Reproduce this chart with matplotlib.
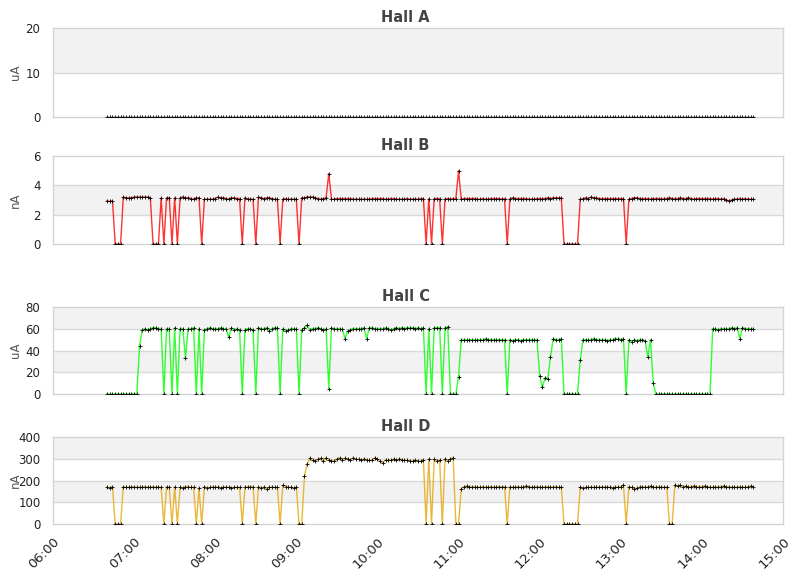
import datetime as dt
import matplotlib
matplotlib.use('Agg')
import matplotlib.pyplot as plt
import matplotlib.dates as mdates

# samples every 2 minutes from 06:40
start_time = dt.datetime(2024, 1, 1, 6, 40)
step_minutes = 2

hall_b = [
    2.95, 2.9, 2.95, 0, 0, 0, 3.2, 3.15, 3.15, 3.15,
    3.2, 3.2, 3.2, 3.2, 3.2, 3.2, 3.15, 0, 0, 0,
    3.15, 0, 3.15, 3.15, 0, 3.15, 0, 3.15, 3.2, 3.15,
    3.15, 3.1, 3.05, 3.15, 3.15, 0, 3.05, 3.05, 3.05, 3.05,
    3.1, 3.2, 3.15, 3.15, 3.1, 3.05, 3.15, 3.15, 3.1, 3.1,
    0, 3.15, 3.05, 3.05, 3.05, 0, 3.2, 3.15, 3.1, 3.15,
    3.15, 3.1, 3.05, 3.05, 0, 3.05, 3.1, 3.05, 3.05, 3.05,
    3.05, 0, 3.15, 3.15, 3.2, 3.2, 3.2, 3.15, 3.1, 3.05,
    3.1, 3.15, 4.8, 3.05, 3.05, 3.1, 3.1, 3.1, 3.1, 3.1,
    3.1, 3.05, 3.05, 3.05, 3.05, 3.05, 3.05, 3.05, 3.1, 3.1,
    3.1, 3.1, 3.1, 3.05, 3.05, 3.1, 3.1, 3.05, 3.05, 3.05,
    3.05, 3.1, 3.05, 3.05, 3.05, 3.05, 3.1, 3.1, 0, 3.1,
    0, 3.1, 3.1, 3.1, 0, 3.05, 3.1, 3.05, 3.1, 3.1,
    5.0, 3.05, 3.1, 3.1, 3.1, 3.1, 3.1, 3.05, 3.05, 3.1,
    3.05, 3.05, 3.1, 3.1, 3.1, 3.1, 3.05, 3.1, 0, 3.1,
    3.15, 3.1, 3.1, 3.1, 3.1, 3.1, 3.05, 3.05, 3.05, 3.1,
    3.1, 3.1, 3.1, 3.15, 3.1, 3.15, 3.15, 3.15, 3.15, 0,
    0, 0, 0, 0, 0, 3.05, 3.1, 3.15, 3.1, 3.2,
    3.15, 3.15, 3.1, 3.1, 3.1, 3.1, 3.1, 3.1, 3.1, 3.1,
    3.1, 3.1, 0, 3.05, 3.1, 3.15, 3.15, 3.1, 3.1, 3.1,
    3.1, 3.05, 3.1, 3.1, 3.1, 3.05, 3.1, 3.1, 3.15, 3.1,
    3.1, 3.1, 3.15, 3.1, 3.1, 3.15, 3.1, 3.05, 3.1, 3.1,
    3.1, 3.1, 3.1, 3.1, 3.05, 3.1, 3.1, 3.05, 3.1, 3.0,
    2.95, 3.0, 3.05, 3.05, 3.1, 3.05, 3.1, 3.05, 3.05, 3.05,
]

hall_c = [
    0, 0, 0, 0, 0, 0, 0, 0, 0, 0,
    0, 0, 44, 59, 60, 59, 60, 61, 61, 60,
    60, 0, 60, 60, 0, 61, 0, 60, 60, 33,
    60, 60, 61, 0, 60, 0, 59, 60, 61, 60,
    60, 60, 61, 60, 60, 52, 61, 59, 60, 59,
    0, 59, 60, 60, 59, 0, 61, 60, 60, 61,
    58, 60, 61, 61, 0, 60, 58, 59, 60, 60,
    60, 0, 59, 61, 63, 59, 60, 60, 61, 60,
    59, 60, 5, 61, 60, 60, 60, 60, 51, 58,
    59, 60, 60, 60, 60, 61, 51, 61, 61, 60,
    60, 60, 60, 61, 60, 59, 60, 61, 60, 61,
    60, 61, 61, 61, 60, 61, 60, 61, 0, 60,
    0, 61, 61, 61, 0, 61, 62, 0, 0, 0,
    16, 50, 50, 50, 50, 50, 50, 50, 50, 50,
    51, 50, 50, 50, 50, 50, 50, 50, 0, 50,
    49, 50, 50, 49, 50, 50, 50, 50, 50, 50,
    17, 6, 15, 14, 34, 51, 50, 50, 51, 0,
    0, 0, 0, 0, 0, 31, 50, 50, 50, 50,
    51, 50, 50, 50, 50, 49, 50, 50, 51, 51,
    50, 51, 0, 50, 48, 50, 49, 50, 50, 49,
    34, 50, 10, 0, 0, 0, 0, 0, 0, 0,
    0, 0, 0, 0, 0, 0, 0, 0, 0, 0,
    0, 0, 0, 0, 60, 60, 59, 60, 60, 60,
    60, 61, 60, 61, 51, 61, 60, 60, 60, 60,
]

hall_d = [
    168, 166, 172, 0, 0, 0, 172, 168, 168, 172,
    170, 168, 168, 170, 172, 168, 170, 172, 168, 170,
    168, 0, 172, 168, 0, 172, 0, 168, 165, 172,
    172, 168, 170, 0, 165, 0, 172, 165, 168, 170,
    168, 172, 165, 168, 170, 168, 165, 168, 168, 168,
    0, 168, 172, 172, 172, 0, 172, 165, 170, 162,
    168, 170, 168, 168, 0, 178, 172, 170, 168, 165,
    170, 0, 0, 220, 275, 302, 292, 290, 298, 302,
    288, 305, 295, 290, 290, 298, 305, 295, 302, 298,
    295, 305, 298, 298, 295, 300, 295, 292, 295, 305,
    298, 290, 280, 295, 292, 295, 298, 292, 300, 296,
    295, 292, 290, 290, 292, 288, 290, 295, 0, 300,
    0, 298, 290, 295, 0, 300, 290, 300, 305, 0,
    0, 160, 172, 175, 172, 170, 172, 168, 170, 172,
    168, 170, 172, 168, 170, 172, 170, 172, 0, 172,
    168, 170, 172, 168, 170, 175, 172, 168, 170, 172,
    170, 168, 170, 172, 168, 170, 172, 168, 170, 0,
    0, 0, 0, 0, 0, 168, 165, 168, 168, 170,
    168, 170, 168, 172, 170, 168, 170, 165, 168, 170,
    172, 178, 0, 172, 168, 162, 165, 170, 172, 168,
    172, 175, 170, 168, 172, 170, 168, 172, 0, 0,
    178, 175, 178, 172, 175, 170, 172, 175, 172, 170,
    172, 175, 172, 170, 168, 172, 170, 172, 175, 170,
    172, 168, 170, 168, 172, 170, 168, 172, 175, 172,
]

hall_a = [0.0] * len(hall_b)

titles = ['Hall A', 'Hall B', 'Hall C', 'Hall D']
units = ['uA', 'nA', 'uA', 'nA']
series = [hall_a, hall_b, hall_c, hall_d]
line_colors = ['#000000', '#ff0000', '#00ff00', '#e5a50a']
y_max = [20, 6, 80, 400]
y_step = [10, 2, 20, 100]
x_labels = ['06:00', '07:00', '08:00', '09:00', '10:00', '11:00',
            '12:00', '13:00', '14:00', '15:00']

times = [start_time + dt.timedelta(minutes=step_minutes * i) for i in range(len(hall_b))]

W, H = 811, 578
fig = plt.figure(figsize=(W / 100, H / 100), dpi=100)

# axes boxes in pixels: (top, bottom)
boxes = [(28, 117), (156, 244), (307, 394), (437, 524)]
left_px, right_px = 53, 783

x0 = dt.datetime(2024, 1, 1, 6, 0)
x1 = dt.datetime(2024, 1, 1, 15, 0)

for k in range(4):
    top, bot = boxes[k]
    ax = fig.add_axes([left_px / W, 1 - bot / H, (right_px - left_px) / W, (bot - top) / H])
    ax.set_xlim(x0, x1)
    ax.set_ylim(0, y_max[k])

    # alternating bands and grid
    ticks = list(range(0, y_max[k] + 1, y_step[k]))
    for j in range(len(ticks) - 1):
        if j % 2 == 1:
            ax.axhspan(ticks[j], ticks[j + 1], color='#f2f2f2', zorder=0, lw=0)
    for t in ticks[1:-1]:
        ax.axhline(t, color='#d9d9d9', lw=1, zorder=1)

    ax.plot(times, series[k], color=line_colors[k], lw=1, alpha=0.8, zorder=2)
    ax.plot(times, series[k], ls='none', marker='+', ms=2.5, mew=0.6,
            color='black', zorder=3)

    for s in ax.spines.values():
        s.set_color('#d4d4d4')
        s.set_linewidth(1)

    ax.set_yticks(ticks)
    ax.tick_params(axis='y', length=0, pad=9, labelsize=8.5, labelcolor='#222222')
    ax.set_ylabel(units[k], fontsize=8.5, color='#555555')
    ax.yaxis.set_label_coords(-0.042, 0.5)

    ax.set_xticks([x0 + dt.timedelta(hours=h) for h in range(10)])
    if k == 3:
        ax.set_xticklabels(x_labels, rotation=45, ha='right', rotation_mode='anchor',
                           fontsize=9.5, color='#222222')
        ax.tick_params(axis='x', length=0, pad=8)
    else:
        ax.tick_params(axis='x', length=0, labelbottom=False)

    title_x = (W / 2 - left_px) / (right_px - left_px)
    ax.set_title(titles[k], x=title_x, fontsize=10.5, fontweight='bold',
                 color='#444444', pad=4)

fig.savefig('out.png', dpi=100)
